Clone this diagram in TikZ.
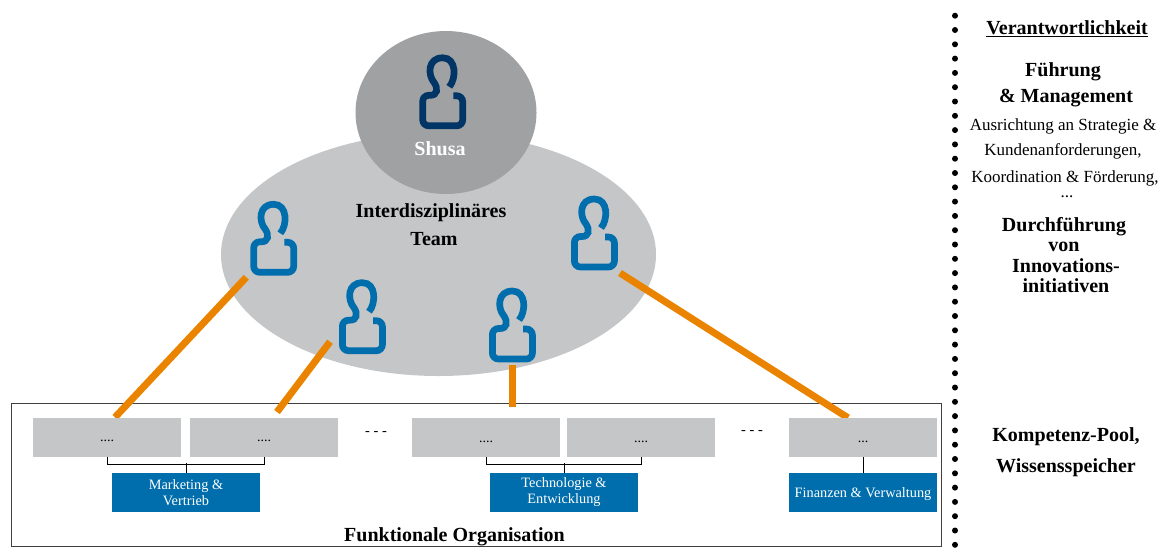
\documentclass[tikz,border=0pt]{standalone}
\usepackage{fontspec}
\setmainfont{Liberation Serif}
\usetikzlibrary{shapes.geometric}
\pgfdeclarelayer{top}
\pgfsetlayers{main,top}
\definecolor{teamgrey}{HTML}{C5C6C8}
\definecolor{shusagrey}{HTML}{A0A1A3}
\definecolor{funcblue}{HTML}{006EAC}
\definecolor{darkblue}{HTML}{003566}
\definecolor{linkorange}{HTML}{EA8400}
\tikzset{
  unitbox/.style={fill=teamgrey,minimum width=148pt,minimum height=39pt,inner sep=0pt,font=\fontsize{14pt}{16pt}\selectfont,text height=9pt,text depth=0pt},
  areabox/.style={fill=funcblue,text=white,minimum width=148pt,minimum height=39pt,inner sep=0pt,align=center,font=\fontsize{14.3pt}{16pt}\selectfont,execute at begin node={\rule{0pt}{14pt}}},
  headtext/.style={font=\fontsize{20pt}{22pt}\selectfont\bfseries,inner sep=0pt},
  smalltext/.style={font=\fontsize{17pt}{20pt}\selectfont,inner sep=0pt},
  gaptext/.style={font=\fontsize{14.5pt}{16pt}\selectfont,inner sep=0pt},
  orangelink/.style={draw=linkorange,line width=7pt},
  person/.pic={
    \coordinate (-c) at (0,0);
    \draw[pic actions,line width=6.7pt] (7,-5) .. controls (14,-13) and (14.5,-34) .. (0.4,-34)
      .. controls (-14.5,-34) and (-15,-17) .. (-8,-9) .. controls (-4,-3) and (-5,3.5) .. (-12,3.5)
      [rounded corners=6pt] -- (-19.6,3.5) -- (-19.6,34) -- (20.4,34) -- (20.4,4) -- (11,4);
  }
}
\begin{document}
\begin{tikzpicture}[x=1pt,y=-1pt]
  \useasboundingbox (0,0) rectangle (1164,547);
  % team and lead
  \node[ellipse,fill=teamgrey,minimum width=435pt,minimum height=243pt,inner sep=0pt] (team) at (438.5,254.5) {};
  \node[ellipse,fill=shusagrey,minimum width=181pt,minimum height=163pt,inner sep=0pt] (shusa) at (446,112.5) {};
  \pic[draw=darkblue] (lead) at (442.3,91.8) {person};
  \pic[draw=funcblue] (p1) at (273.3,238.3) {person};
  \pic[draw=funcblue] (p2) at (362,316.7) {person};
  \pic[draw=funcblue] (p3) at (512,325) {person};
  \pic[draw=funcblue] (p4) at (594,233) {person};
  \node[headtext,text=white] (shusatext) at (440,149) {Shusa};
  \node[headtext] (teamtext1) at (431,213) {Interdisziplinäres};
  \node[headtext] (teamtext2) at (434,239) {Team};
  % functional organisation
  \node[draw=black!75,line width=0.8pt,minimum width=930.5pt,minimum height=143pt,inner sep=0pt] (org) at (476.25,474.5) {};
  \begin{pgfonlayer}{top}
    \node[unitbox] (u1) at (107,437) {....};
    \node[unitbox] (u2) at (264,437) {....};
    \node[unitbox] (u3) at (486,437.5) {....};
    \node[unitbox] (u4) at (641,437.5) {....};
    \node[unitbox] (u5) at (863,437.5) {...};
    \node[areabox] (a1) at (186,492.5) {Marketing \&\\Vertrieb};
    \node[areabox] (a2) at (564,492.5) {Technologie \&\\Entwicklung};
    \node[areabox] (a3) at (863,492.5) {Finanzen \& Verwaltung};
  \end{pgfonlayer}
  \node[gaptext] (gap1) at (376,434) {- - -};
  \node[gaptext] (gap2) at (752,433) {- - -};
  \node[headtext] (orgtext) at (454.5,537) {Funktionale Organisation};
  % brackets
  \draw[line width=0.8pt] (u1.south) -- ++(0,7.5) -| (u2.south);
  \draw[line width=0.8pt] (a1.north) -- ++(0,-9.5);
  \draw[line width=0.8pt] (u3.south) -- ++(0,7.5) -| (u4.south);
  \draw[line width=0.8pt] (a2.north) -- ++(0,-9.5);
  \draw[line width=0.8pt] (u5.south) -- (a3.north);
  % team members to departments
  \coordinate (free2) at (277,412);
  \coordinate (free3) at (512,407);
  \draw[orangelink] ([shift={(-27,39)}]p1-c) -- ([xshift=8pt]u1.north);
  \draw[orangelink] ([shift={(-32,25)}]p2-c) -- (free2);
  \draw[orangelink] ([shift={(0,40)}]p3-c) -- (free3);
  \draw[orangelink] ([shift={(26,40)}]p4-c) -- ([xshift=-15pt]u5.north);
  % right column
  \draw[line width=6pt,line cap=round,dash pattern=on 0pt off 14.3pt] (955,15.7) -- (955,547);
  \node[headtext] (resp) at (1067,29) {\underline{Verantwortlichkeit}};
  \node[headtext] (lead1) at (1063,72) {Führung};
  \node[headtext] (lead2) at (1066,98) {\& Management};
  \node[smalltext] (lead3) at (1063,126) {Ausrichtung an Strategie \&};
  \node[smalltext] (lead4) at (1063,151) {Kundenanforderungen,};
  \node[smalltext] (lead5) at (1065,178) {Koordination \& Förderung,};
  \node[smalltext] (lead6) at (1067,197) {...};
  \node[headtext] (run1) at (1064,226.5) {Durchführung};
  \node[headtext] (run2) at (1064,246.5) {von};
  \node[headtext] (run3) at (1066,266) {Innovations-};
  \node[headtext] (run4) at (1066,286) {initiativen};
  \node[headtext] (pool1) at (1066,437) {Kompetenz-Pool,};
  \node[headtext] (pool2) at (1066,468) {Wissensspeicher};
\end{tikzpicture}
\end{document}
